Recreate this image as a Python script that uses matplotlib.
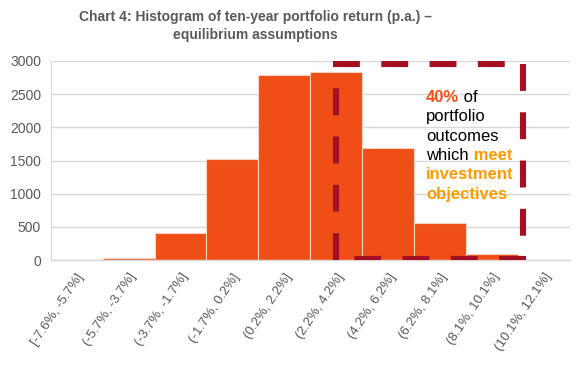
import matplotlib
matplotlib.use("Agg")
import matplotlib.pyplot as plt
from matplotlib.lines import Line2D

plt.rcParams['font.family'] = ['Liberation Sans', 'DejaVu Sans']

categories = ["[-7.6%, -5.7%]", "(-5.7%, -3.7%]", "(-3.7%, -1.7%]", "(-1.7%, 0.2%]",
              "(0.2%, 2.2%]", "(2.2%, 4.2%]", "(4.2%, 6.2%]", "(6.2%, 8.1%]",
              "(8.1%, 10.1%]", "(10.1%, 12.1%]"]
counts = [0, 35, 400, 1530, 2785, 2840, 1695, 553, 95, 5]
yticks = [0, 500, 1000, 1500, 2000, 2500, 3000]

BAR = "#F04E17"
BOX = "#A50F22"
GRAY = "#595959"
ORANGE = "#FF9A00"

fig = plt.figure(figsize=(5.82, 3.74), dpi=100)
ax = fig.add_axes([0.0871, 0.3048, 0.979 - 0.0871, 0.8369 - 0.3048])

x = list(range(len(categories)))
ax.bar(x, counts, width=1.0, color=BAR, edgecolor="#FBD3C2", linewidth=0.8, zorder=2)
ax.set_xlim(-0.5, len(categories) - 0.5)
ax.set_ylim(0, 3000)
ax.set_yticks(yticks)
ax.set_yticklabels([str(v) for v in yticks], fontsize=10, color=GRAY)
ax.set_xticks(x)
ax.set_xticklabels(categories, rotation=56, ha="right", va="top",
                   rotation_mode="anchor", fontsize=9.5, color=GRAY)
ax.tick_params(axis="both", length=0)
ax.tick_params(axis="x", pad=8)
ax.tick_params(axis="y", pad=7)
ax.grid(axis="y", color="#D9D9D9", linewidth=1.0, zorder=0)
ax.set_axisbelow(True)
for s in ["top", "right"]:
    ax.spines[s].set_visible(False)
ax.spines["left"].set_color("#D9D9D9")
ax.spines["bottom"].set_color("#D9D9D9")
ax.spines["bottom"].set_linewidth(1.0)

# dashed "objectives met" box, drawn side by side
bx0, bx1, by0, by1 = 5.0, 8.6, 10, 2955
sides = [
    ([4.94, bx1], [by1, by1]),          # top, left to right
    ([bx1, bx1], [by1, by0]),           # right, top to bottom
    ([8.655, bx0], [by0, by0]),         # bottom, right to left
    ([bx0, bx0], [0, by1]),             # left, bottom to top
]
for xs, ys in sides:
    ln = Line2D(xs, ys, color=BOX, linewidth=4.4, zorder=3,
                solid_capstyle="butt", dash_capstyle="butt")
    ln.set_dashes((4.4, 3.5))
    ax.add_line(ln)

# annotation text
fs = 12
tx, ty = 6.73, 2380
t1 = ax.text(tx, ty, "40%", color=BAR, fontsize=fs, fontweight="bold", va="baseline")
ax.annotate(" of", xycoords=t1, xy=(1, 0), va="bottom", color="black", fontsize=fs)
ls = 291
ax.text(tx, ty - ls, "portfolio", color="black", fontsize=fs, va="baseline")
ax.text(tx, ty - 2 * ls, "outcomes", color="black", fontsize=fs, va="baseline")
t4 = ax.text(tx, ty - 3 * ls, "which", color="black", fontsize=fs, va="baseline")
ax.annotate(" meet", xycoords=t4, xy=(1, 0), va="bottom", color=ORANGE,
            fontsize=fs, fontweight="bold")
ax.text(tx, ty - 4 * ls, "investment", color=ORANGE, fontsize=fs, fontweight="bold", va="baseline")
ax.text(tx, ty - 5 * ls, "objectives", color=ORANGE, fontsize=fs, fontweight="bold", va="baseline")

fig.text(255 / 582, 1 - 17 / 374, "Chart 4: Histogram of ten-year portfolio return (p.a.) –",
         ha="center", va="center", fontsize=10, fontweight="bold", color=GRAY)
fig.text(255 / 582, 1 - 35 / 374, "equilibrium assumptions",
         ha="center", va="center", fontsize=10, fontweight="bold", color=GRAY)

fig.savefig("out.png", dpi=100)
